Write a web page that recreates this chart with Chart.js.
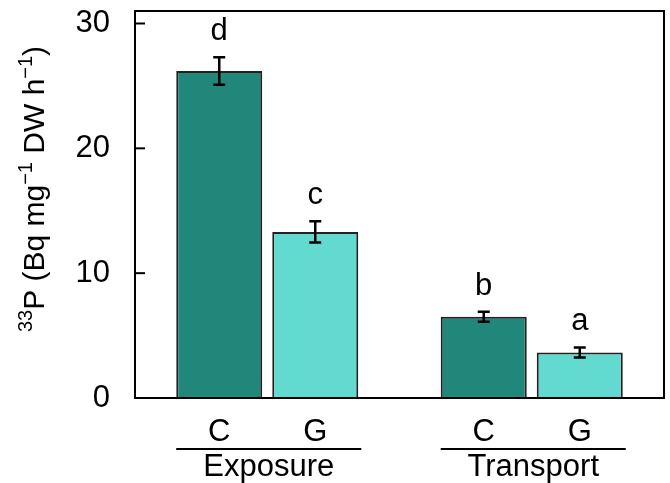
<!DOCTYPE html>
<html>
<head>
<meta charset="utf-8">
<script src="https://cdn.jsdelivr.net/npm/chart.js@4"></script>
<style>
  html, body { margin: 0; padding: 0; background: #fff; }
  #wrap { width: 670px; height: 483px; }
</style>
</head>
<body>
<div id="wrap"><canvas id="chart" width="670" height="483"></canvas></div>
<script>
// data
const groups = ['Exposure', 'Transport'];
const treatments = ['C', 'G'];
const meanC = [26.2, 6.5];
const errC = [1.1, 0.4];
const meanG = [13.3, 3.65];
const errG = [0.85, 0.4];
const lettersC = ['d', 'b'];
const lettersG = ['c', 'a'];
const yTicks = [0, 10, 20, 30];

const FONT = '"Liberation Sans", Arial, sans-serif';

// error bars, letters, frame, custom x labels and axis title
const decorations = {
  id: 'decorations',
  afterDatasetsDraw(chart) {
    const ctx = chart.ctx;
    const area = chart.chartArea;
    const y = chart.scales.y;
    const errs = [errC, errG];
    const means = [meanC, meanG];
    const letters = [lettersC, lettersG];

    ctx.save();
    ctx.strokeStyle = '#000';
    ctx.fillStyle = '#000';

    // error bars + significance letters
    chart.data.datasets.forEach((ds, di) => {
      const meta = chart.getDatasetMeta(di);
      meta.data.forEach((bar, i) => {
        const top = y.getPixelForValue(means[di][i] + errs[di][i]);
        const bot = y.getPixelForValue(means[di][i] - errs[di][i]);
        ctx.lineWidth = 2.5;
        ctx.beginPath();
        ctx.moveTo(bar.x, top); ctx.lineTo(bar.x, bot);
        ctx.moveTo(bar.x - 6, top); ctx.lineTo(bar.x + 6, top);
        ctx.moveTo(bar.x - 6, bot); ctx.lineTo(bar.x + 6, bot);
        ctx.stroke();

        ctx.font = '31px ' + FONT;
        ctx.textAlign = 'center';
        ctx.textBaseline = 'alphabetic';
        ctx.fillText(letters[di][i], bar.x, top - 17);

        // treatment label under each bar
        ctx.fillText(treatments[di], bar.x, 441);
      });
    });

    // group lines and names
    const m0 = chart.getDatasetMeta(0), m1 = chart.getDatasetMeta(1);
    groups.forEach((g, i) => {
      const b0 = m0.data[i], b1 = m1.data[i];
      const left = b0.x - b0.width / 2;
      const right = b1.x + b1.width / 2 + 3;
      ctx.lineWidth = 2;
      ctx.beginPath();
      ctx.moveTo(left, 449); ctx.lineTo(right, 449);
      ctx.stroke();
      ctx.font = '31px ' + FONT;
      ctx.textAlign = 'center';
      ctx.fillText(g, (left + right) / 2, 476);
    });

    // frame
    ctx.lineWidth = 2;
    ctx.strokeRect(area.left, area.top, area.right - area.left, area.bottom - area.top);

    // inward ticks
    yTicks.forEach(v => {
      const py = y.getPixelForValue(v);
      ctx.beginPath();
      ctx.moveTo(area.left, py); ctx.lineTo(area.left + 10, py);
      ctx.stroke();
    });

    // y axis title with superscripts
    const parts = [
      ['33', true], ['P (Bq mg', false], ['\u22121', true],
      [' DW h', false], ['\u22121', true], [')', false]
    ];
    const widths = parts.map(([t, sup]) => {
      ctx.font = (sup ? '20px ' : '30px ') + FONT;
      return ctx.measureText(t).width;
    });
    const total = widths.reduce((a, b) => a + b, 0);
    ctx.translate(44, 189);
    ctx.rotate(-Math.PI / 2);
    ctx.textAlign = 'left';
    let x = -total / 2;
    parts.forEach(([t, sup], i) => {
      ctx.font = (sup ? '20px ' : '30px ') + FONT;
      ctx.fillText(t, x, sup ? -12 : 0);
      x += widths[i];
    });
    ctx.restore();
  }
};

new Chart(document.getElementById('chart'), {
  type: 'bar',
  data: {
    labels: groups,
    datasets: [
      { label: treatments[0], data: meanC, backgroundColor: '#22877b', borderColor: '#222', borderWidth: 2 },
      { label: treatments[1], data: meanG, backgroundColor: '#63dacf', borderColor: '#222', borderWidth: 2 }
    ]
  },
  options: {
    responsive: false,
    animation: false,
    devicePixelRatio: 1,
    categoryPercentage: 0.726,
    barPercentage: 0.896,
    layout: { padding: { top: 11, right: 6, left: 0, bottom: 0 } },
    plugins: { legend: { display: false }, tooltip: { enabled: false } },
    scales: {
      x: {
        grid: { display: false },
        border: { display: false },
        ticks: { display: false },
        afterFit: s => { s.height = 85; }
      },
      y: {
        min: 0,
        max: 31,
        grid: { display: true, drawOnChartArea: false, drawTicks: true, tickLength: 25, color: 'rgba(0,0,0,0)' },
        border: { display: false },
        ticks: {
          padding: 0,
          color: '#000',
          font: { family: FONT, size: 31, lineHeight: 0.6 }
        },
        afterBuildTicks: s => { s.ticks = yTicks.map(v => ({ value: v })); },
        afterFit: s => { s.width = 135; }
      }
    }
  },
  plugins: [decorations]
});
</script>
</body>
</html>
